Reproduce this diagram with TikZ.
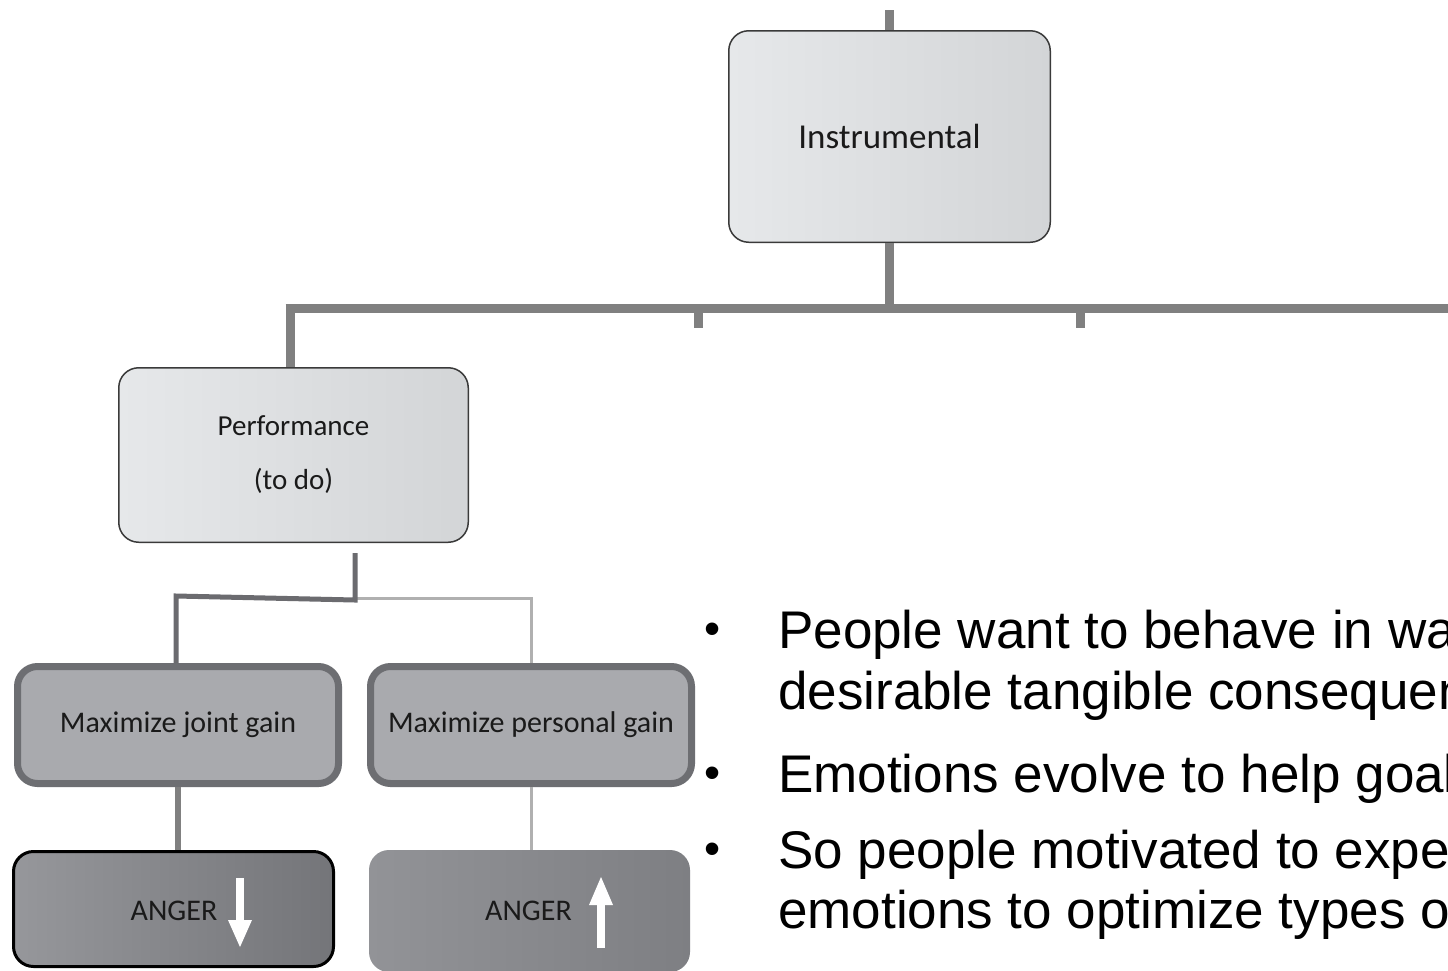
\documentclass[tikz,border=0pt]{standalone}
\usepackage{fontspec}
\setmainfont{Liberation Sans}
\newfontfamily\boxfont{Carlito}
\usetikzlibrary{calc}

\definecolor{trunkgray}{HTML}{808080}
\definecolor{stemgray}{HTML}{6B6B6F}
\definecolor{palegray}{HTML}{B0B0B0}
\definecolor{edgedark}{HTML}{3A3A3A}
\definecolor{lightL}{HTML}{E6E8EA}
\definecolor{lightR}{HTML}{D3D5D7}
\definecolor{midfill}{HTML}{A9AAAE}
\definecolor{midedge}{HTML}{6D6E72}
\definecolor{darkL}{HTML}{96979B}
\definecolor{darkR}{HTML}{747579}
\definecolor{softL}{HTML}{929397}
\definecolor{softR}{HTML}{7E7F83}
\definecolor{inkdark}{HTML}{1A1A1A}

\tikzset{
  topbox/.style={rounded corners=20pt, draw=edgedark, line width=1.5pt,
    left color=lightL, right color=lightR, inner sep=0pt, align=center,
    text=inkdark},
  goalbox/.style={rounded corners=20pt, draw=midedge, line width=7pt,
    fill=midfill, inner sep=0pt, align=center, text=inkdark,
    minimum width=321pt, minimum height=117pt,
    font=\boxfont\fontsize{30}{36}\selectfont},
  angerbox/.style={rounded corners=20pt, inner sep=0pt, align=center,
    text=inkdark, font=\boxfont\fontsize{30}{36}\selectfont},
  trunk/.style={draw=trunkgray, line width=9pt},
  stem/.style={draw=stemgray, line width=5pt},
  thinstem/.style={draw=palegray, line width=3pt},
  bulletline/.style={anchor=base west, inner sep=0pt,
    font=\fontsize{53}{60}\selectfont},
  bulletdot/.style={inner sep=0pt, font=\fontsize{46}{56}\selectfont},
}

\begin{document}
\begin{tikzpicture}[x=1pt,y=-1pt]
\clip (0,0) rectangle (1448,970);
\fill[white] (0,0) rectangle (1448,970);

% boxes of the tree
\node[topbox, minimum width=321.5pt, minimum height=211.5pt,
      font=\boxfont\fontsize{35}{42}\selectfont]
  (instr) at (889.5,136.5) {Instrumental};
\node[topbox, minimum width=349.5pt, minimum height=174.5pt,
      font=\boxfont\fontsize{29}{54}\selectfont]
  (perf) at (293.5,455) {Performance\\(to do)};
\node[goalbox] (joint) at (178,725) {Maximize joint gain};
\node[goalbox] (personal) at (531,725) {Maximize personal gain};
\node[angerbox, draw=black, line width=3pt, left color=darkL, right color=darkR,
      minimum width=320pt, minimum height=115pt]
  (anger1) at (173.5,909) {};
\node[angerbox, left color=softL, right color=softR,
      minimum width=321pt, minimum height=122pt]
  (anger2) at (529.5,911) {};
\node[angerbox] (angertxt1) at (174,911) {ANGER};
\node[angerbox] (angertxt2) at (528.5,911) {ANGER};

% white arrows inside the ANGER boxes
\fill[white] ($(anger1.center)+(62.5,-31)$) rectangle ($(anger1.center)+(70.5,13)$);
\fill[white] ($(anger1.center)+(54.5,11)$) -- ($(anger1.center)+(78.5,11)$)
  -- ($(anger1.center)+(66.5,38)$) -- cycle;
\fill[white] ($(anger2.center)+(67.5,-8)$) rectangle ($(anger2.center)+(75.5,37)$);
\fill[white] ($(anger2.center)+(59.5,-6)$) -- ($(anger2.center)+(83.5,-6)$)
  -- ($(anger2.center)+(71.5,-34)$) -- cycle;

% trunk connectors
\coordinate (topend) at (889.5,10);
\coordinate (busL) at (290,308);
\coordinate (busR) at (1460,308);
\coordinate (tickA) at (698,328);
\coordinate (tickB) at (1080,328);
\draw[trunk] (topend) -- (instr.north);
\draw[trunk] (instr.south) -- (instr.south |- busL);
\draw[trunk] ([xshift=-4.5pt]busL) -- (busR);
\draw[trunk] (busL) -- (busL |- perf.north);
\draw[trunk] (tickA |- busL) -- (tickA);
\draw[trunk] (tickB |- busL) -- (tickB);

% branches below Performance
\coordinate (perfout) at ($(perf.south)+(61.5,10)$);
\coordinate (split) at ($(perfout)+(0,47)$);
\coordinate (bendL) at ($(joint.north)+(-2,-67)$);
\draw[thinstem] ($(split)+(0,-2)$) -| (personal.north);
\draw[stem, line join=miter] (perfout) -- (split) -- (bendL) -- (bendL |- joint.north);
\draw[draw=trunkgray, line width=6pt] (joint.south) -- (joint.south |- anger1.north);
\draw[thinstem] (personal.south) -- (personal.south |- anger2.north);

% bullet list
\node[bulletdot] (b1) at (713,634) {•};
\node[bulletdot] (b2) at (713,778) {•};
\node[bulletdot] (b3) at (713,854) {•};
\node[bulletline] (l1) at (778,648) {People want to behave in wa};
\node[bulletline] (l2) at (778,709) {desirable tangible consequen};
\node[bulletline] (l3) at (778,792) {Emotions evolve to help goal};
\node[bulletline] (l4) at (778,868) {So people motivated to expe};
\node[bulletline] (l5) at (778,928) {emotions to optimize types o};
\end{tikzpicture}
\end{document}
